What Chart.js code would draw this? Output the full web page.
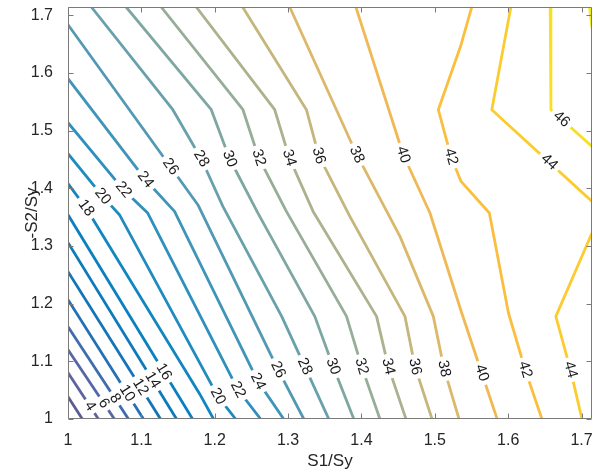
<!DOCTYPE html>
<html>
<head>
<meta charset="utf-8">
<script src="https://cdn.jsdelivr.net/npm/chart.js@4/dist/chart.umd.min.js"></script>
<style>
  html, body { margin: 0; padding: 0; background: #ffffff; }
  #wrap { width: 602px; height: 473px; }
</style>
</head>
<body>
<div id="wrap"><canvas id="c" width="602" height="473"></canvas></div>
<script>
// Axis extents and ticks
const axisMin = 1;
const axisMax = 12 / 7;
const xTickValues = [1, 1.1, 1.2, 1.3, 1.4, 1.5, 1.6, 1.7];
const xTickLabels = ['1', '1.1', '1.2', '1.3', '1.4', '1.5', '1.6', '1.7'];
const yTickValues = [1, 1.1, 1.2, 1.3, 1.4, 1.5, 1.6, 1.7];
const yTickLabels = ['1', '1.1', '1.2', '1.3', '1.4', '1.5', '1.6', '1.7'];

// Contour levels and their colours
const levels = [2, 4, 6, 8, 10, 12, 14, 16, 18, 20, 22, 24, 26, 28, 30, 32, 34, 36, 38, 40, 42, 44, 46, 48];
const levelColors = ['#5b5c8f', '#5c63a0', '#5667a6', '#3f6cae', '#2470b5', '#1474b9', '#0d7abb', '#0c80be',
                     '#1286bf', '#1f8bbf', '#2e90bd', '#3f95b9', '#5299b3', '#68a1ab', '#7fa7a2', '#96ad98',
                     '#abb28d', '#c4b67d', '#dcb86a', '#efb955', '#fbbe3e', '#fccc2f', '#f6e026', '#f0ee1a'];

// Contour polylines, [S1/Sy, -S2/Sy] vertices
const line02 = [[1.000, 1.0387], [1.0195, 1.000]];
const line04 = [[1.000, 1.0803], [1.0414, 1.000]];
const line06 = [[1.000, 1.1201], [1.0632, 1.000]];
const line08 = [[1.000, 1.1600], [1.0824, 1.000]];
const line10 = [[1.000, 1.2068], [1.1028, 1.000]];
const line12 = [[1.000, 1.2554], [1.1261, 1.000]];
const line14 = [[1.000, 1.3057], [1.1479, 1.000]];
const line16 = [[1.000, 1.3542], [1.1698, 1.000]];
const line18 = [[1.000, 1.4080], [1.0246, 1.3658], [1.1793, 1.0439], [1.1984, 1.000]];
const line20 = [[1.000, 1.4600], [1.0473, 1.3859], [1.0701, 1.3542], [1.2043, 1.0392], [1.2285, 1.000]];
const line22 = [[1.000, 1.5137], [1.0755, 1.3975], [1.1087, 1.3571], [1.2316, 1.0508], [1.2626, 1.000]];
const line24 = [[1.000, 1.5900], [1.1056, 1.4149], [1.1452, 1.3599], [1.2589, 1.0652], [1.2940, 1.000]];
const line26 = [[1.000, 1.6836], [1.1397, 1.4374], [1.1770, 1.3715], [1.2863, 1.0855], [1.3214, 1.000]];
const line28 = [[1.0318, 1.7143], [1.1429, 1.5362], [1.1816, 1.4512], [1.2111, 1.3686], [1.2913, 1.1779], [1.3227, 1.0912], [1.3555, 1.000]];
const line30 = [[1.0792, 1.7143], [1.1953, 1.5362], [1.2203, 1.4512], [1.2589, 1.3571], [1.3364, 1.1779], [1.3614, 1.0912], [1.3896, 1.000]];
const line32 = [[1.1270, 1.7143], [1.2385, 1.5362], [1.2599, 1.4530], [1.2977, 1.3599], [1.3797, 1.1779], [1.4002, 1.0912], [1.4252, 1.000]];
const line34 = [[1.1748, 1.7143], [1.2818, 1.5362], [1.3016, 1.4530], [1.3341, 1.3599], [1.4206, 1.1779], [1.4365, 1.0912], [1.4607, 1.000]];
const line36 = [[1.2380, 1.7143], [1.3250, 1.5362], [1.3418, 1.4565], [1.3842, 1.3513], [1.4593, 1.1779], [1.4730, 1.0907], [1.4962, 1.000]];
const line38 = [[1.3022, 1.7143], [1.3937, 1.4582], [1.4525, 1.3166], [1.4980, 1.1779], [1.5126, 1.0872], [1.5330, 1.000]];
const line40 = [[1.3924, 1.7143], [1.4570, 1.4582], [1.4934, 1.3571], [1.5367, 1.1838], [1.5640, 1.0798], [1.5850, 1.000]];
const line42 = [[1.5504, 1.7143], [1.5358, 1.6489], [1.5048, 1.5362], [1.5221, 1.4548], [1.5358, 1.4119], [1.5744, 1.3571], [1.6004, 1.1838], [1.6232, 1.0855], [1.6460, 1.000]];
const line44a = [[1.6037, 1.7143], [1.5777, 1.5362], [1.7143, 1.3773]];
const line44b = [[1.7143, 1.3225], [1.6650, 1.1779], [1.6849, 1.0855], [1.7006, 1.000]];
const line46 = [[1.6573, 1.7143], [1.6583, 1.5362], [1.7143, 1.4726]];
const line48 = [[1.7110, 1.7143], [1.7143, 1.6779]];

const contourLines = [
  [2, line02], [4, line04], [6, line06], [8, line08], [10, line10], [12, line12],
  [14, line14], [16, line16], [18, line18], [20, line20], [22, line22], [24, line24],
  [26, line26], [28, line28], [30, line30], [32, line32], [34, line34], [36, line36],
  [38, line38], [40, line40], [42, line42], [44, line44a], [44, line44b], [46, line46], [48, line48]
];

// Inline contour labels: [level, S1/Sy, -S2/Sy]
const labelSpots = [
  [4, 1.0332, 1.0248], [6, 1.0563, 1.0335], [8, 1.0722, 1.0422], [10, 1.0882, 1.0508],
  [12, 1.1041, 1.0595], [14, 1.1201, 1.0711], [16, 1.1315, 1.0825],
  [18, 1.0246, 1.3658], [20, 1.0473, 1.3859], [22, 1.0755, 1.3975], [24, 1.1056, 1.4149],
  [26, 1.1397, 1.4374], [28, 1.1816, 1.4512], [30, 1.2203, 1.4512], [32, 1.2599, 1.4530],
  [34, 1.3016, 1.4530], [36, 1.3418, 1.4565], [38, 1.3937, 1.4582], [40, 1.4570, 1.4582],
  [42, 1.5221, 1.4548], [44, 1.6528, 1.4409], [46, 1.6700, 1.5160],
  [20, 1.2043, 1.0392], [22, 1.2316, 1.0508], [24, 1.2589, 1.0652], [26, 1.2863, 1.0855],
  [28, 1.3227, 1.0912], [30, 1.3614, 1.0912], [32, 1.4002, 1.0912], [34, 1.4365, 1.0912],
  [36, 1.4730, 1.0907], [38, 1.5126, 1.0872], [40, 1.5640, 1.0798], [42, 1.6232, 1.0855],
  [44, 1.6849, 1.0855]
];

const FONT_FAMILY = "'Liberation Sans', Arial, Helvetica, sans-serif";
const LABEL_SIZE = 15;
const LABEL_GAP = 4;
const TEXT_COLOR = '#262626';
const AXIS_COLOR = '#7a7a7a';

const datasets = contourLines.map(([level, pts]) => ({
  level: level,
  data: pts.map(([x, y]) => ({ x: x, y: y })),
  showLine: true,
  borderColor: levelColors[levels.indexOf(level)],
  borderWidth: 2.8,
  borderJoinStyle: 'round',
  borderCapStyle: 'butt',
  pointRadius: 0,
  pointHoverRadius: 0,
  tension: 0,
  fill: false
}));

// Places the level labels on their lines and opens a gap in each line under its label
const contourLabels = {
  id: 'contourLabels',
  beforeDatasetsDraw(chart) {
    const { ctx, scales } = chart;
    const sx = scales.x, sy = scales.y;
    ctx.save();
    ctx.font = LABEL_SIZE + 'px ' + FONT_FAMILY;
    chart.$labels = labelSpots.map(([lev, lx, ly]) => {
      const px = sx.getPixelForValue(lx), py = sy.getPixelForValue(ly);
      let best = null;
      chart.data.datasets.forEach((ds, di) => {
        if (ds.level !== lev) return;
        const p = ds.data.map(d => [sx.getPixelForValue(d.x), sy.getPixelForValue(d.y)]);
        for (let i = 0; i < p.length - 1; i++) {
          const ax = p[i][0], ay = p[i][1], bx = p[i + 1][0], by = p[i + 1][1];
          const dx = bx - ax, dy = by - ay, l2 = dx * dx + dy * dy;
          let t = ((px - ax) * dx + (py - ay) * dy) / l2;
          t = Math.max(0, Math.min(1, t));
          const qx = ax + t * dx, qy = ay + t * dy;
          const d = Math.hypot(px - qx, py - qy);
          if (!best || d < best.d) best = { d, qx, qy, ang: Math.atan2(dy, dx), di };
        }
      });
      let a = best.ang;
      if (a > Math.PI / 2) a -= Math.PI;
      if (a <= -Math.PI / 2) a += Math.PI;
      const text = String(lev);
      return { text, x: best.qx, y: best.qy, a, w: ctx.measureText(text).width, di: best.di };
    });
    ctx.restore();
  },
  beforeDatasetDraw(chart, args) {
    const labs = (chart.$labels || []).filter(l => l.di === args.index);
    if (!labs.length) return;
    const ctx = chart.ctx;
    ctx.save();
    ctx.beginPath();
    ctx.rect(0, 0, chart.width, chart.height);
    labs.forEach(l => {
      const hw = l.w / 2 + LABEL_GAP, hh = 8;
      const c = Math.cos(l.a), s = Math.sin(l.a);
      const corners = [[-hw, -hh], [hw, -hh], [hw, hh], [-hw, hh]]
        .map(([u, v]) => [l.x + u * c - v * s, l.y + u * s + v * c]);
      ctx.moveTo(corners[0][0], corners[0][1]);
      for (let i = 1; i < 4; i++) ctx.lineTo(corners[i][0], corners[i][1]);
      ctx.closePath();
    });
    ctx.clip('evenodd');
  },
  afterDatasetDraw(chart, args) {
    if ((chart.$labels || []).some(l => l.di === args.index)) chart.ctx.restore();
  },
  afterDatasetsDraw(chart) {
    const ctx = chart.ctx;
    ctx.save();
    ctx.font = LABEL_SIZE + 'px ' + FONT_FAMILY;
    ctx.fillStyle = '#1a1a1a';
    ctx.textAlign = 'center';
    ctx.textBaseline = 'middle';
    (chart.$labels || []).forEach(l => {
      ctx.save();
      ctx.translate(l.x, l.y);
      ctx.rotate(l.a);
      ctx.fillText(l.text, 0, 0);
      ctx.restore();
    });
    ctx.restore();
  }
};

// Box around the plot with inward tick marks on all four sides
const axesBox = {
  id: 'axesBox',
  afterDraw(chart) {
    const { ctx, chartArea: ca, scales } = chart;
    const L = Math.round(ca.left) + 0.5, R = Math.round(ca.right) - 0.5;
    const T = Math.round(ca.top) + 0.5, B = Math.round(ca.bottom) - 0.5;
    const tick = 5;
    ctx.save();
    ctx.strokeStyle = AXIS_COLOR;
    ctx.lineWidth = 1;
    ctx.beginPath();
    ctx.rect(L, T, R - L, B - T);
    xTickValues.forEach(v => {
      const px = Math.round(scales.x.getPixelForValue(v)) + 0.5;
      ctx.moveTo(px, B); ctx.lineTo(px, B - tick);
      ctx.moveTo(px, T); ctx.lineTo(px, T + tick);
    });
    yTickValues.forEach(v => {
      const py = Math.round(scales.y.getPixelForValue(v)) + 0.5;
      ctx.moveTo(L, py); ctx.lineTo(L + tick, py);
      ctx.moveTo(R, py); ctx.lineTo(R - tick, py);
    });
    ctx.stroke();
    ctx.restore();
  }
};

// Fixed axis box sizes so the plot area lands where it should
function fitX(s) {
  s.height = 54;
  s.paddingLeft = 0; s.paddingRight = 0; s.paddingTop = 0; s.paddingBottom = 0;
}
function fitY(s) {
  s.width = 68;
  s.paddingLeft = 0; s.paddingRight = 0; s.paddingTop = 0; s.paddingBottom = 0;
}

new Chart(document.getElementById('c'), {
  type: 'scatter',
  data: { datasets: datasets },
  options: {
    responsive: false,
    devicePixelRatio: 1,
    animation: false,
    events: [],
    layout: { padding: { left: 0, top: 7, right: 10, bottom: 0 } },
    plugins: { legend: { display: false }, tooltip: { enabled: false } },
    scales: {
      x: {
        type: 'linear',
        min: axisMin,
        max: axisMax,
        afterBuildTicks: s => { s.ticks = xTickValues.map(v => ({ value: v })); },
        afterFit: fitX,
        grid: { display: false },
        border: { display: false },
        ticks: {
          padding: 4,
          color: TEXT_COLOR,
          font: { family: FONT_FAMILY, size: 16 },
          maxRotation: 0,
          autoSkip: false,
          callback: (v, i) => xTickLabels[i]
        },
        title: {
          display: true,
          text: 'S1/Sy',
          color: TEXT_COLOR,
          font: { family: FONT_FAMILY, size: 17 },
          padding: { top: 0, bottom: 1 }
        }
      },
      y: {
        type: 'linear',
        min: axisMin,
        max: axisMax,
        afterBuildTicks: s => { s.ticks = yTickValues.map(v => ({ value: v })); },
        afterFit: fitY,
        grid: { display: false },
        border: { display: false },
        ticks: {
          padding: 7,
          color: TEXT_COLOR,
          font: { family: FONT_FAMILY, size: 16 },
          autoSkip: false,
          callback: (v, i) => yTickLabels[i]
        },
        title: {
          display: true,
          text: '-S2/Sy',
          color: TEXT_COLOR,
          font: { family: FONT_FAMILY, size: 17 },
          padding: { top: 22, bottom: 0 }
        }
      }
    }
  },
  plugins: [contourLabels, axesBox]
});
</script>
</body>
</html>
